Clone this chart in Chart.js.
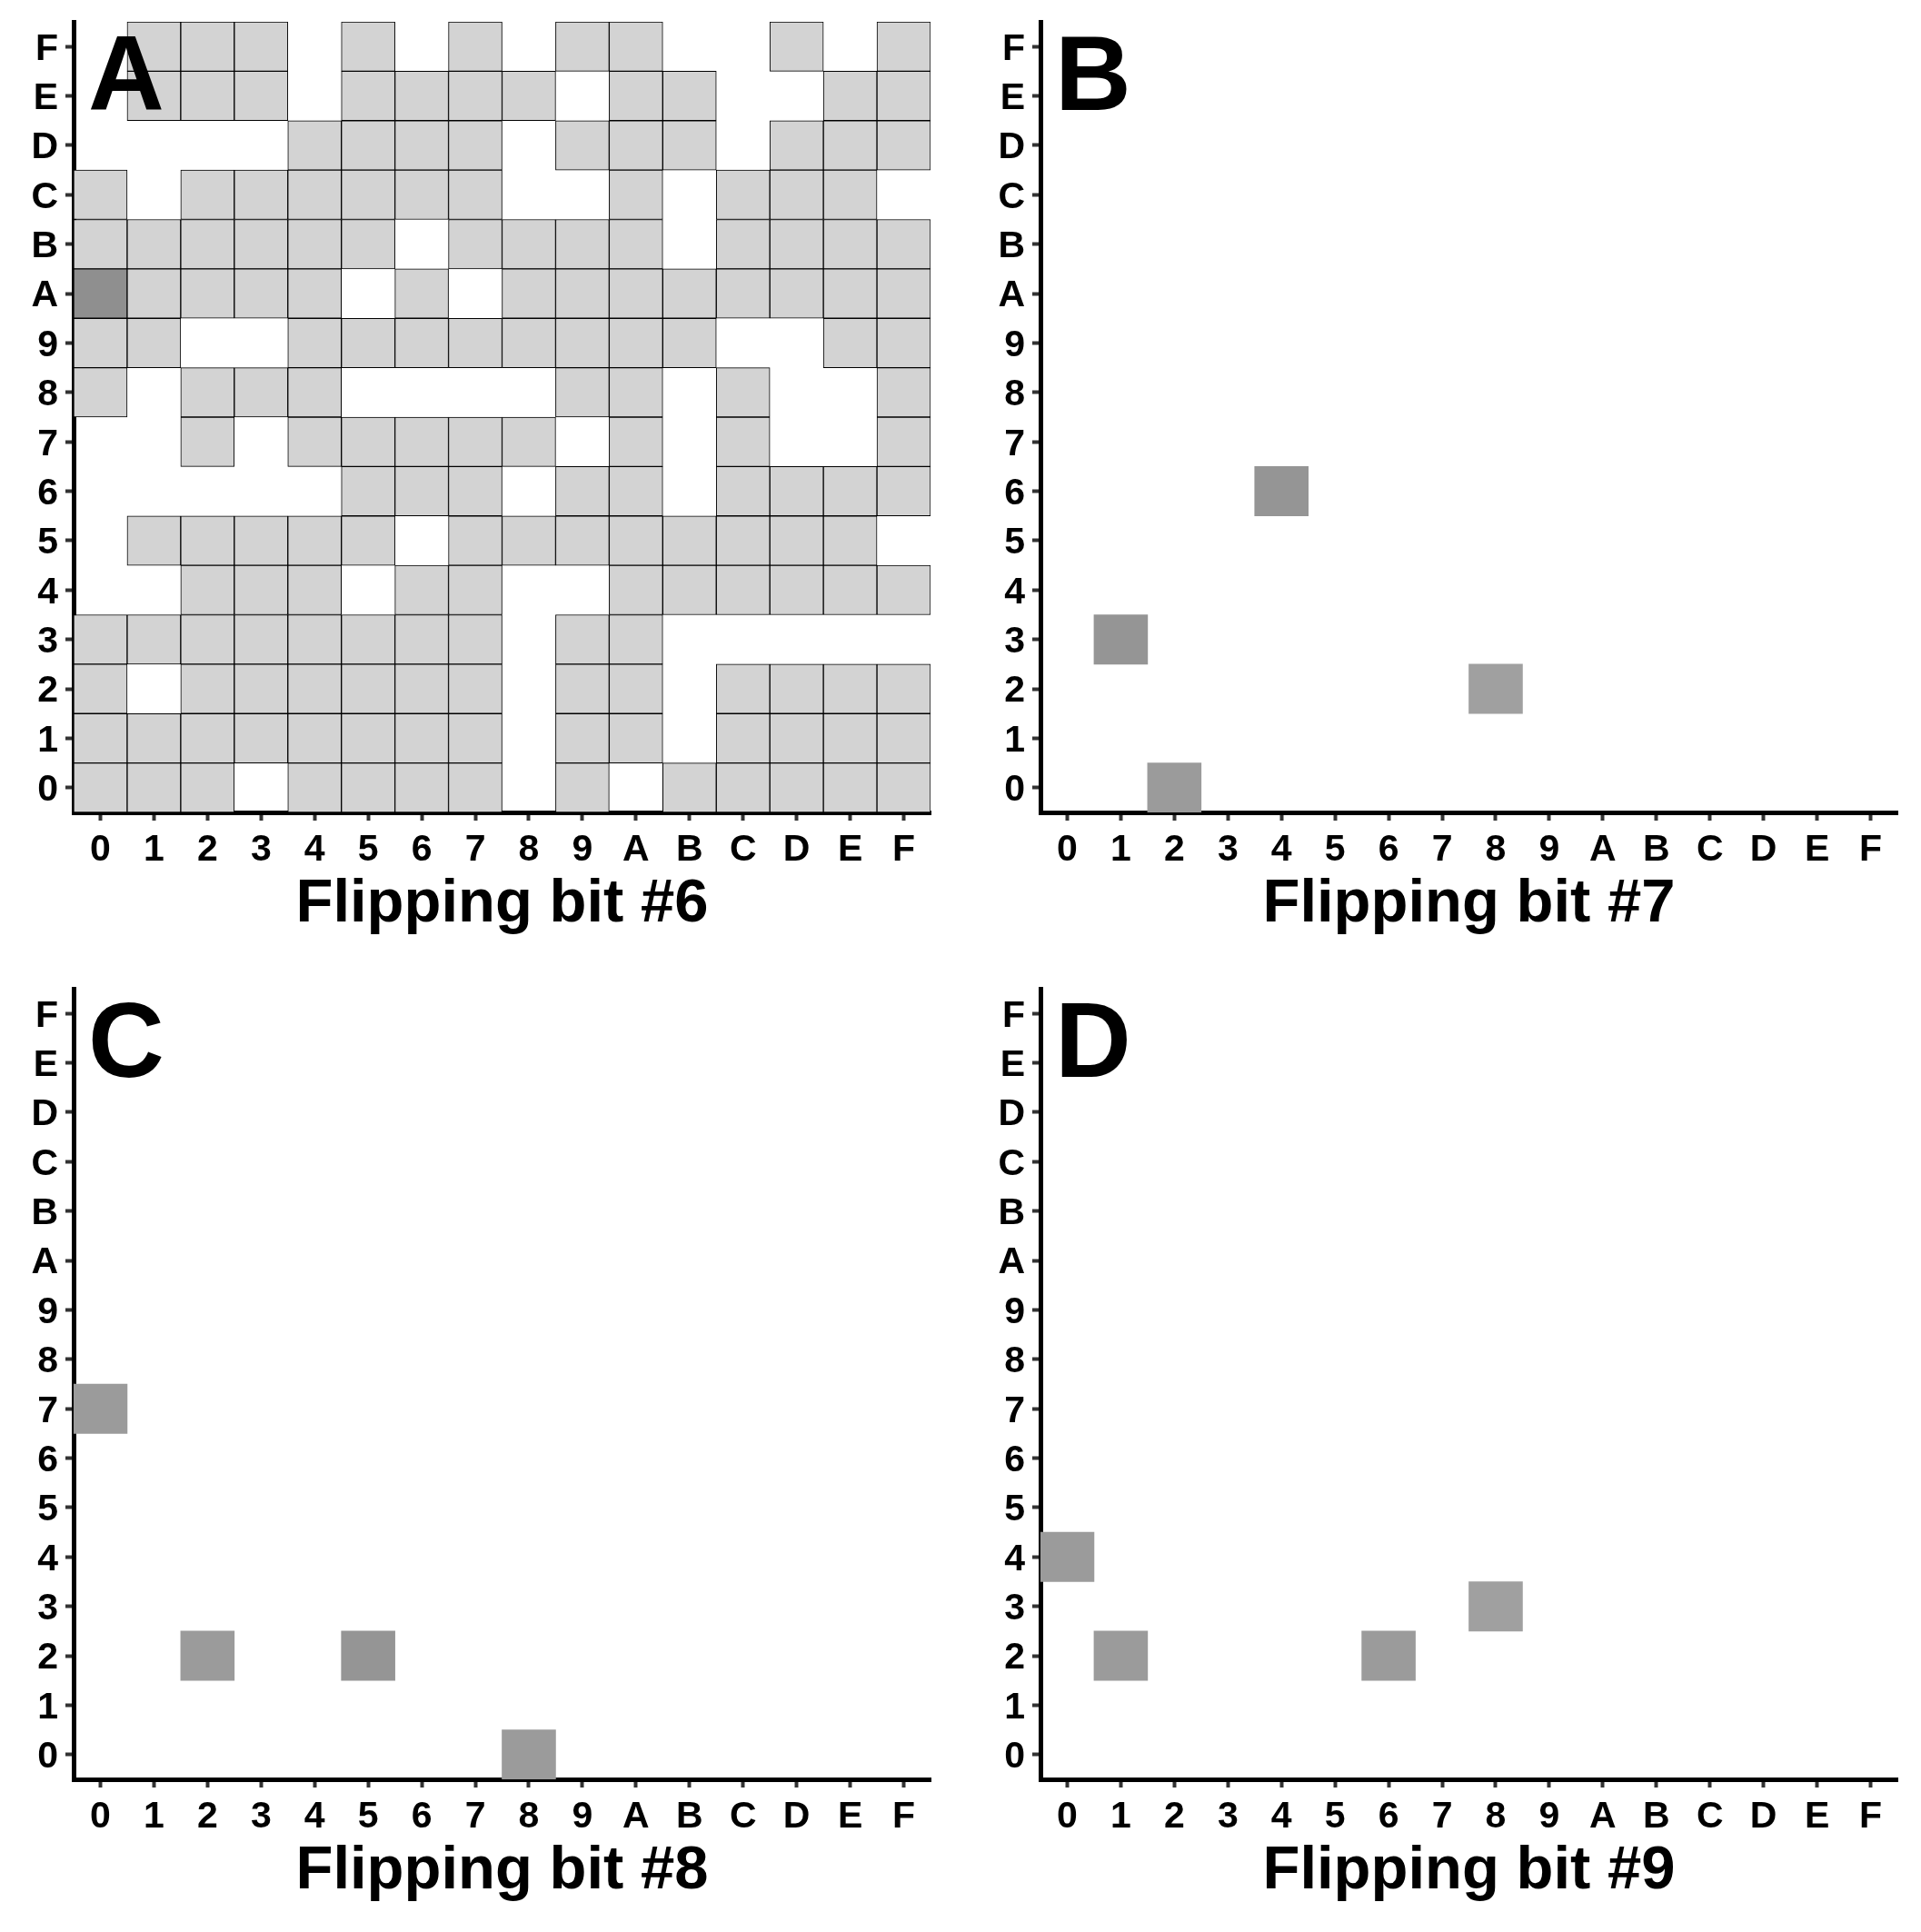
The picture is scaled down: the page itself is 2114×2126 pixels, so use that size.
<!DOCTYPE html>
<html>
<head>
<meta charset="utf-8">
<title>Flipping bits</title>
<script src="https://cdn.jsdelivr.net/npm/chart.js@4.4.1/dist/chart.umd.min.js"></script>
<style>
  html, body { margin: 0; padding: 0; background: #fff; }
  #wrap { position: relative; width: 2114px; height: 2126px; background: #fff; overflow: hidden; }
  .panel { position: absolute; width: 1050px; height: 1062px; }
</style>
</head>
<body>
<div id="wrap">
  <div class="panel" style="left:0;top:0"><canvas id="bit6" width="1050" height="1062"></canvas></div>
  <div class="panel" style="left:1064px;top:0"><canvas id="bit7" width="1050" height="1062"></canvas></div>
  <div class="panel" style="left:0;top:1064px"><canvas id="bit8" width="1050" height="1062"></canvas></div>
  <div class="panel" style="left:1064px;top:1064px"><canvas id="bit9" width="1050" height="1062"></canvas></div>
</div>
<script>
// hex digits used on both axes
const hexLabels = ['0','1','2','3','4','5','6','7','8','9','A','B','C','D','E','F'];

// bit #6: one string per row, top row F down to row 0;
// each char = hits for column 0..F (0 = nothing)
const bit6Rows = [
  '0111010101100101', // F
  '0111011110110011', // E
  '0000111101110111', // D
  '1011111100101110', // C
  '1111110111101111', // B
  '5111101011111111', // A
  '1100111111110011', // 9
  '1011100001101001', // 8
  '0010111110101001', // 7
  '0000011101101111', // 6
  '0111110111111110', // 5
  '0011101100111111', // 4
  '1111111101100000', // 3
  '1011111101101111', // 2
  '1111111101101111', // 1
  '1110111101011111', // 0
];

// bits #7..#9: only a few hits each
const bit7Cols = [1, 2, 4, 8];
const bit7Rows = [3, 0, 6, 2];
const bit7Hits = [4, 3, 4, 2];

const bit8Cols = [0, 2, 5, 8];
const bit8Rows = [7, 2, 2, 0];
const bit8Hits = [3, 3, 4, 3];

const bit9Cols = [0, 1, 6, 8];
const bit9Rows = [4, 2, 2, 3];
const bit9Hits = [3, 3, 3, 2];

const shades = { 1: '#d3d3d3', 2: '#a0a0a0', 3: '#9b9b9b', 4: '#959595', 5: '#8f8f8f' };
const FONT = '"Liberation Sans", Arial, Helvetica, sans-serif';

function gridTiles(rows) {
  const out = [];
  rows.forEach((line, r) => {
    const y = hexLabels.length - 1 - r;
    line.split('').forEach((ch, x) => {
      const hits = parseInt(ch, 10);
      if (hits > 0) out.push({ x, y: [y - 0.5, y + 0.5], hits });
    });
  });
  return out;
}

function listTiles(cols, rows, hits) {
  return cols.map((c, i) => ({ x: c, y: [rows[i] - 0.5, rows[i] + 0.5], hits: hits[i] }));
}

const panelLetter = {
  id: 'panelLetter',
  afterDraw(chart, args, opts) {
    const { ctx, chartArea } = chart;
    ctx.save();
    ctx.font = 'bold 116px ' + FONT;
    ctx.fillStyle = '#000';
    ctx.textBaseline = 'alphabetic';
    ctx.textAlign = 'left';
    ctx.fillText(opts.text, chartArea.left + 16, chartArea.top + 97);
    ctx.restore();
  }
};

function hexAxis(axis, title) {
  const s = {
    type: 'linear',
    min: -0.5,
    max: 15.5,
    offset: false,
    afterBuildTicks: (scale) => { scale.ticks = hexLabels.map((_, i) => ({ value: i })); },
    ticks: {
      callback: (v) => hexLabels[v],
      color: '#000',
      font: { family: FONT, size: 41, weight: 'bold' },
      padding: 8,
      autoSkip: false,
      maxRotation: 0,
      minRotation: 0,
    },
    grid: { display: true, offset: false, drawOnChartArea: false, drawTicks: true, tickLength: 9, tickWidth: 4, tickColor: '#333333' },
    border: { display: true, color: '#000', width: 5 },
  };
  if (axis === 'x') {
    s.afterFit = (scale) => { scale.height = 168; scale.paddingLeft = 0; scale.paddingRight = 0; };
    s.title = {
      display: true,
      text: title,
      color: '#000',
      font: { family: FONT, size: 67, weight: 'bold', lineHeight: 1.2 },
      padding: { top: 0, bottom: 26 },
    };
  } else {
    s.ticks.labelOffset = 3;
    s.afterFit = (scale) => { scale.width = 81; scale.paddingTop = 0; scale.paddingBottom = 0; };
  }
  return s;
}

function drawPanel(id, letter, title, tiles, outlined) {
  new Chart(document.getElementById(id), {
    type: 'bar',
    data: {
      datasets: [{
        data: tiles,
        backgroundColor: (c) => shades[c.raw ? c.raw.hits : 1],
        borderColor: '#000',
        borderWidth: outlined ? 1 : 0,
        borderSkipped: false,
        categoryPercentage: 1,
        barPercentage: 1,
        grouped: false,
      }],
    },
    options: {
      responsive: false,
      animation: false,
      layout: { padding: { top: 24, right: 26, left: 0, bottom: 0 } },
      plugins: {
        legend: { display: false },
        tooltip: { enabled: false },
        panelLetter: { text: letter },
      },
      scales: { x: hexAxis('x', title), y: hexAxis('y') },
    },
    plugins: [panelLetter],
  });
}

drawPanel('bit6', 'A', 'Flipping bit #6', gridTiles(bit6Rows), true);
drawPanel('bit7', 'B', 'Flipping bit #7', listTiles(bit7Cols, bit7Rows, bit7Hits), false);
drawPanel('bit8', 'C', 'Flipping bit #8', listTiles(bit8Cols, bit8Rows, bit8Hits), false);
drawPanel('bit9', 'D', 'Flipping bit #9', listTiles(bit9Cols, bit9Rows, bit9Hits), false);
</script>
</body>
</html>
